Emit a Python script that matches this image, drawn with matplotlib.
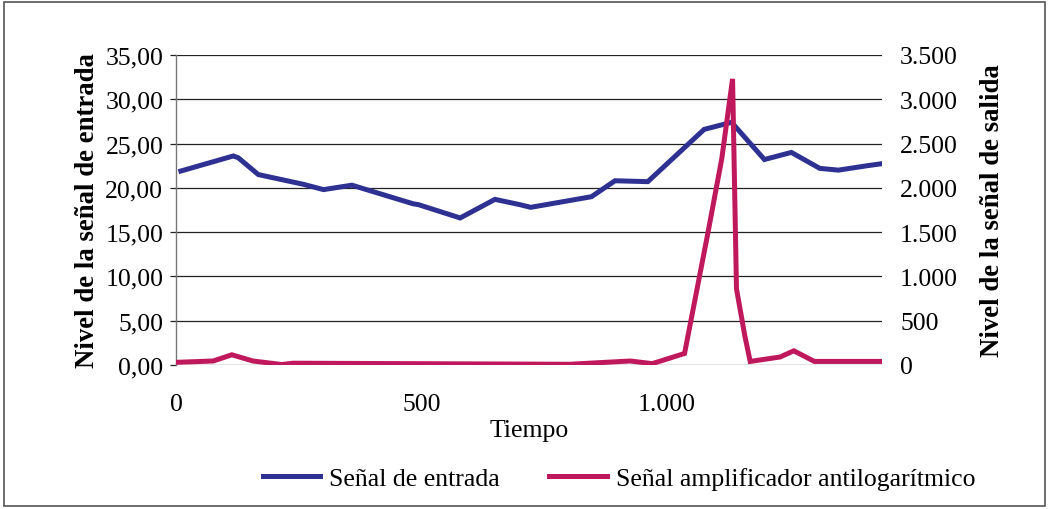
import matplotlib
matplotlib.use("Agg")
import matplotlib.pyplot as plt
from matplotlib.ticker import FuncFormatter
from matplotlib.lines import Line2D
from matplotlib.patches import Rectangle

plt.rcParams['font.family'] = ['Liberation Serif', 'DejaVu Serif']

# Señal de entrada (eje izquierdo)
t_entrada = [9, 116, 126, 167, 259, 300, 358, 483, 494, 579, 650, 701, 723,
             847, 895, 962, 1077, 1133, 1200, 1255, 1313, 1351, 1410, 1436]
entrada = [21.9, 23.6, 23.4, 21.5, 20.4, 19.8, 20.3, 18.2, 18.1, 16.6, 18.7,
           18.1, 17.8, 19.0, 20.8, 20.7, 26.6, 27.4, 23.2, 24.0, 22.2, 22.0,
           22.5, 22.7]

# Señal amplificador antilogarítmico (eje derecho)
t_salida = [0, 75, 113, 156, 215, 238, 803, 926, 971, 1037, 1085, 1113, 1135,
            1143, 1160, 1171, 1232, 1260, 1302, 1436]
salida = [30, 45, 115, 45, 5, 20, 8, 45, 15, 130, 1500, 2330, 3230,
          860, 330, 40, 90, 160, 40, 40]

x_ticks = [0, 500, 1000]
y_izq = [0, 5, 10, 15, 20, 25, 30, 35]
y_der = [0, 500, 1000, 1500, 2000, 2500, 3000, 3500]

azul = '#2E3192'
rojo = '#C0185C'

fig = plt.figure(figsize=(10.48, 5.10), dpi=100)
fig.patches.append(Rectangle((0.004, 0.006), 0.993, 0.988, transform=fig.transFigure,
                             fill=False, edgecolor='#555555', linewidth=1.2))

ax = fig.add_axes([0.1684, 0.2824, 0.8416 - 0.1684, 0.8902 - 0.2824])
ax2 = ax.twinx()

ax.plot(t_entrada, entrada, color=azul, linewidth=3.6, solid_joinstyle='miter')
ax2.plot(t_salida, salida, color=rojo, linewidth=3.6, solid_joinstyle='miter')

ax.set_xlim(0, 1440)
ax.set_ylim(0, 35)
ax2.set_ylim(0, 3500)

ax.set_yticks(y_izq)
ax2.set_yticks(y_der)
ax.set_xticks(x_ticks)
ax.set_xticks([0], minor=True)

ax.yaxis.set_major_formatter(FuncFormatter(lambda v, p: f"{v:.2f}".replace('.', ',')))
ax2.yaxis.set_major_formatter(FuncFormatter(lambda v, p: f"{int(v):,}".replace(',', '.')))
ax.xaxis.set_major_formatter(FuncFormatter(lambda v, p: f"{int(v):,}".replace(',', '.')))

ax.grid(axis='y', color='#222222', linewidth=0.9)
ax.set_axisbelow(True)

for s in ['top', 'right', 'bottom']:
    ax.spines[s].set_visible(False)
for s in ax2.spines.values():
    s.set_visible(False)
ax.spines['left'].set_color('#777777')
ax.spines['left'].set_linewidth(1.0)

ax.tick_params(axis='y', length=4.5, width=0.9, color='#222222', pad=5, labelsize=18.5)
ax.tick_params(axis='x', which='major', length=0, pad=20, labelsize=18.5)
ax.tick_params(axis='x', which='minor', length=10, width=1.0, color='#777777')
ax2.tick_params(axis='y', length=0, pad=13, labelsize=18.5)

ax.set_xlabel('Tiempo', fontsize=18.5, labelpad=3)
ax.set_ylabel('Nivel de la señal de entrada', fontsize=19.3, fontweight='bold', labelpad=4)
ax2.set_ylabel('Nivel de la señal de salida', fontsize=19.3, fontweight='bold', labelpad=16)

handles = [Line2D([], [], color=azul, linewidth=3.6),
           Line2D([], [], color=rojo, linewidth=3.6)]
fig.legend(handles, ['Señal de entrada', 'Señal amplificador antilogarítmico'],
           loc='center', bbox_to_anchor=(0.5905, 0.06), ncol=2, frameon=False,
           fontsize=18.5, handlelength=2.25, columnspacing=1.9, handletextpad=0.35)

fig.savefig('out.png', dpi=100)
